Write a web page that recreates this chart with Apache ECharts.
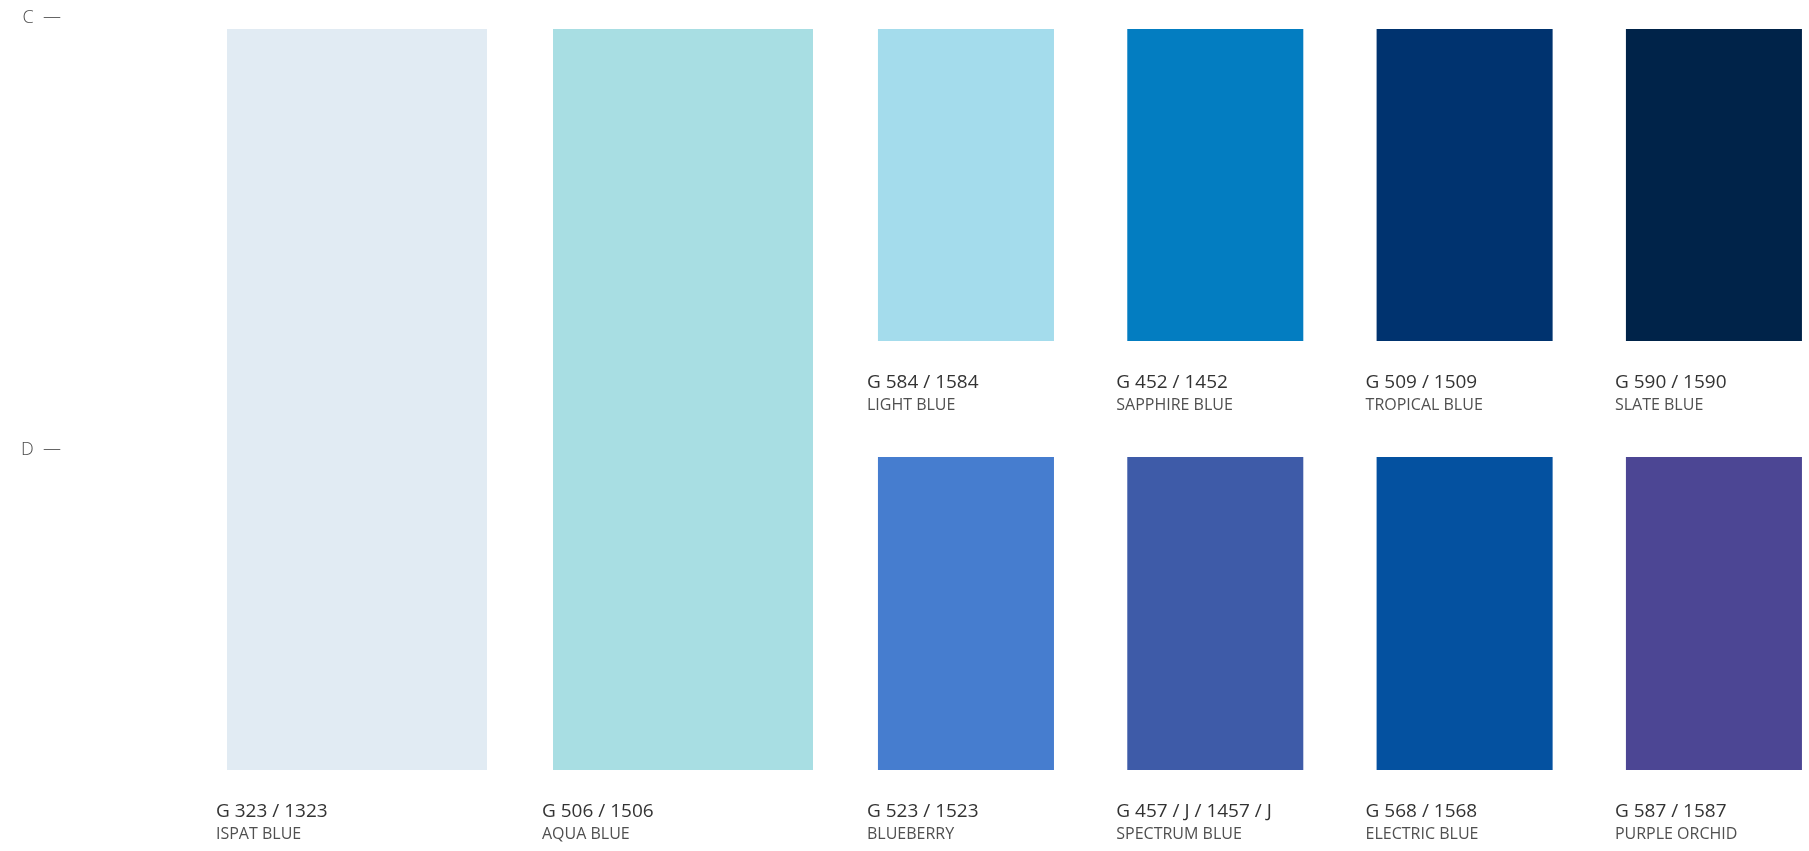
<!DOCTYPE html>
<html>
<head>
<meta charset="utf-8">
<title>Blue palette</title>
<script src="https://cdn.jsdelivr.net/npm/echarts@6/dist/echarts.min.js"></script>
<style>
  html, body { margin: 0; padding: 0; background: #ffffff; }
  #swatches { width: 1809px; height: 851px; }
</style>
</head>
<body>
<div id="swatches"></div>
<script>
// row labels on the left
const rowLabels = ['C', 'D']

// tall swatches, covering rows C and D
const wideCodes = ['G 323 / 1323', 'G 506 / 1506']
const wideNames = ['ISPAT BLUE', 'AQUA BLUE']
const wideColors = ['#e1ebf3', '#a8dee3']

// row C
const topCodes = ['G 584 / 1584', 'G 452 / 1452', 'G 509 / 1509', 'G 590 / 1590']
const topNames = ['LIGHT BLUE', 'SAPPHIRE BLUE', 'TROPICAL BLUE', 'SLATE BLUE']
const topColors = ['#a4dcec', '#037dc1', '#00336f', '#002349']

// row D
const bottomCodes = ['G 523 / 1523', 'G 457 / J / 1457 / J', 'G 568 / 1568', 'G 587 / 1587']
const bottomNames = ['BLUEBERRY', 'SPECTRUM BLUE', 'ELECTRIC BLUE', 'PURPLE ORCHID']
const bottomColors = ['#467dcf', '#3e5ba8', '#0451a0', '#4c4694']

const fontFamily = '"Open Sans", Lato, sans-serif'
const codeColor = '#333333'
const nameColor = '#505050'
// pixel gap from a row label down to the swatch top, and swatch depth per row
const rowInset = [11, 7]
const rowDepth = [323, 320]

function makeRender (codes, names, colors, widthRatio) {
  return function (params, api) {
    const i = params.dataIndex
    const r0 = api.value(1)
    const r1 = api.value(2)
    const top = api.coord([api.value(0), r0])
    const end = api.coord([api.value(0), r1])
    const w = api.size([1, 0])[0] * widthRatio
    const x = top[0] - w / 2
    const y0 = top[1] + rowInset[r0]
    const y1 = end[1] + rowDepth[r1]
    return {
      type: 'group',
      children: [
        {
          type: 'rect',
          shape: { x: x, y: y0, width: w, height: y1 - y0 },
          style: { fill: colors[i] }
        },
        {
          type: 'text',
          style: {
            text: codes[i], x: x - 11, y: y1 + 42,
            fill: codeColor, fontSize: 19, fontFamily: fontFamily,
            verticalAlign: 'middle', align: 'left'
          }
        },
        {
          type: 'text',
          style: {
            text: names[i], x: x - 11, y: y1 + 64,
            fill: nameColor, fontSize: 16, fontWeight: 400, fontFamily: fontFamily,
            verticalAlign: 'middle', align: 'left'
          }
        }
      ]
    }
  }
}

const chart = echarts.init(document.getElementById('swatches'))
const yBase = { type: 'value', inverse: true, min: 0, max: 1.8, interval: 1 }

chart.setOption({
  animation: false,
  grid: [
    { left: 194, width: 652, top: 18, height: 777.6, outerBoundsMode: 'none', containLabel: false },
    { left: 841.3, width: 997.3, top: 18, height: 777.6, outerBoundsMode: 'none', containLabel: false }
  ],
  xAxis: [
    { type: 'category', gridIndex: 0, data: wideNames, show: false },
    { type: 'category', gridIndex: 1, data: topNames, show: false }
  ],
  yAxis: [
    Object.assign({}, yBase, {
      gridIndex: 0,
      axisLine: { show: false },
      axisTick: { show: false },
      splitLine: { show: false },
      axisLabel: {
        margin: 133,
        showMaxLabel: false,
        color: '#4a4a4a',
        fontSize: 18,
        fontWeight: 300,
        fontFamily: fontFamily,
        formatter: function (v) {
          return rowLabels[v] !== undefined ? rowLabels[v] + '  \u2014' : ''
        }
      }
    }),
    Object.assign({}, yBase, { gridIndex: 1, show: false })
  ],
  series: [
    {
      type: 'custom',
      xAxisIndex: 0,
      yAxisIndex: 0,
      clip: false,
      encode: { x: 0, y: 1 },
      renderItem: makeRender(wideCodes, wideNames, wideColors, 0.7975),
      data: wideCodes.map((c, i) => [i, 0, 1])
    },
    {
      type: 'custom',
      xAxisIndex: 1,
      yAxisIndex: 1,
      clip: false,
      encode: { x: 0, y: 1 },
      renderItem: makeRender(topCodes, topNames, topColors, 0.706),
      data: topCodes.map((c, i) => [i, 0, 0])
    },
    {
      type: 'custom',
      xAxisIndex: 1,
      yAxisIndex: 1,
      clip: false,
      encode: { x: 0, y: 1 },
      renderItem: makeRender(bottomCodes, bottomNames, bottomColors, 0.706),
      data: bottomCodes.map((c, i) => [i, 1, 1])
    }
  ]
})
</script>
</body>
</html>
